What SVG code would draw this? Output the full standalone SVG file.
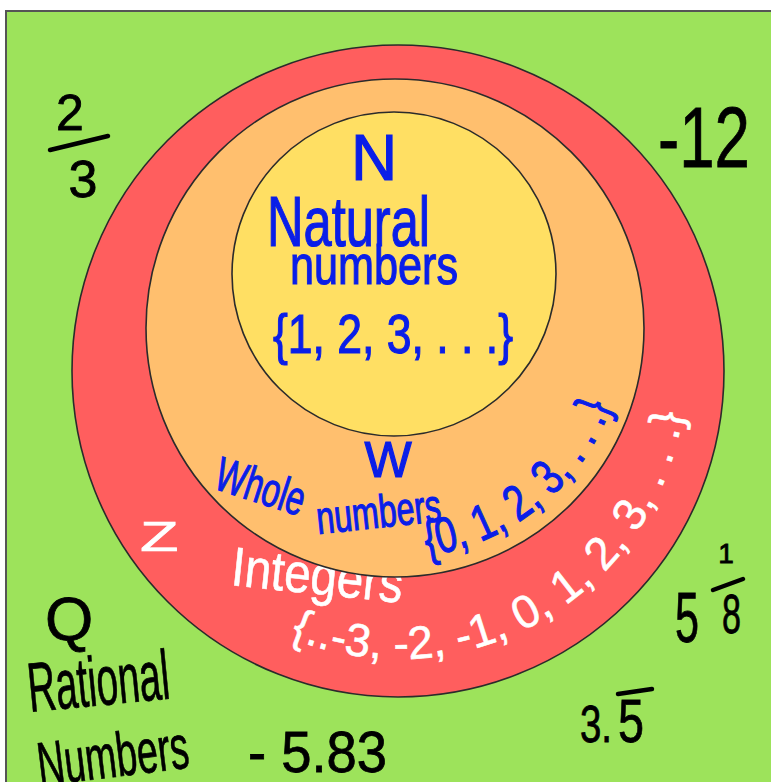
<svg xmlns="http://www.w3.org/2000/svg" width="771" height="782" viewBox="0 0 771 782">
<defs>
<style>
text{font-family:"Liberation Sans","DejaVu Sans",sans-serif;}
.blue{fill:#0a1ee8;stroke:#0a1ee8;stroke-width:1.2}
.white{fill:#ffffff;stroke:#ffffff;stroke-width:0.6}
.black{fill:#000000;stroke:#000000;stroke-width:0.8}
.ring{stroke:#2b2b2b;stroke-width:1.6}
.bar{stroke:#000000;stroke-width:4.5;stroke-linecap:round;fill:none}
</style>
<path id="arcW" d="M 427 556 A 230 230 0 0 0 611 407"/>
<path id="arcZ" d="M 290 638 A 288 288 0 0 0 684 406"/>
</defs>
<rect width="771" height="782" fill="#ffffff"/>
<g id="set-Q">
<rect x="6" y="11" width="775" height="790" fill="#9de35b" stroke="#555555" stroke-width="2"/>
<text class="black" x="45" y="640" font-size="62">Q</text>
<text class="black" transform="translate(30,712) rotate(-5.5)" font-size="70" textLength="142" lengthAdjust="spacingAndGlyphs">Rational</text>
<text class="black" transform="translate(40,786) rotate(-7)" font-size="62" textLength="152" lengthAdjust="spacingAndGlyphs">Numbers</text>
</g>
<g id="set-Z">
<circle class="ring" cx="398" cy="371" r="326" fill="#ff5e5e"/>
<text class="white" transform="translate(140,551) scale(1.5,1)" font-size="42">Z</text>
<text class="white" transform="translate(230,585) rotate(6)" font-size="55" textLength="172" lengthAdjust="spacingAndGlyphs">Integers</text>
<text class="white" font-size="46"><textPath href="#arcZ" textLength="520" lengthAdjust="spacingAndGlyphs">{..-3, -2, -1, 0, 1, 2, 3, . . .}</textPath></text>
</g>
<g id="set-W">
<circle class="ring" cx="395" cy="328" r="249" fill="#ffbf6e"/>
<text class="blue" x="388" y="477" font-size="50" text-anchor="middle">W</text>
<text class="blue" transform="translate(212,488) rotate(18)" font-size="48" textLength="92" lengthAdjust="spacingAndGlyphs">Whole</text>
<text class="blue" transform="translate(318,534) rotate(-6)" font-size="46" textLength="125" lengthAdjust="spacingAndGlyphs">numbers</text>
<text class="blue" font-size="50"><textPath href="#arcW" textLength="249" lengthAdjust="spacingAndGlyphs">{0, 1, 2, 3, . . .}</textPath></text>
</g>
<g id="set-N">
<circle class="ring" cx="394" cy="274" r="162" fill="#ffdf63"/>
<text class="blue" x="374" y="180" font-size="64" text-anchor="middle">N</text>
<text class="blue" x="267" y="246" font-size="70" textLength="163" lengthAdjust="spacingAndGlyphs">Natural</text>
<text class="blue" x="290" y="284" font-size="56" textLength="168" lengthAdjust="spacingAndGlyphs">numbers</text>
<text class="blue" x="273" y="353" font-size="56" textLength="240" lengthAdjust="spacingAndGlyphs">{1, 2, 3, . . .}</text>
</g>
<g id="examples">
<text class="black" x="70" y="130" font-size="50" text-anchor="middle">2</text>
<line class="bar" x1="50" y1="150" x2="108" y2="136"/>
<text class="black" x="83" y="197" font-size="52" text-anchor="middle">3</text>
<text class="black" x="658" y="167" font-size="86" textLength="92" lengthAdjust="spacingAndGlyphs">-12</text>
<text class="black" x="675" y="642" font-size="70" textLength="24" lengthAdjust="spacingAndGlyphs">5</text>
<text class="black" x="726" y="563" font-size="28" text-anchor="middle">1</text>
<line class="bar" x1="713" y1="590" x2="743" y2="579"/>
<text class="black" x="722" y="633" font-size="56" textLength="19" lengthAdjust="spacingAndGlyphs">8</text>
<text class="black" x="580" y="742" font-size="52" textLength="32" lengthAdjust="spacingAndGlyphs">3.</text>
<text class="black" x="618" y="742" font-size="62" textLength="26" lengthAdjust="spacingAndGlyphs">5</text>
<line class="bar" x1="618" y1="694" x2="652" y2="689"/>
<text class="black" x="248" y="772" font-size="58" textLength="139" lengthAdjust="spacingAndGlyphs">- 5.83</text>
</g>
</svg>
